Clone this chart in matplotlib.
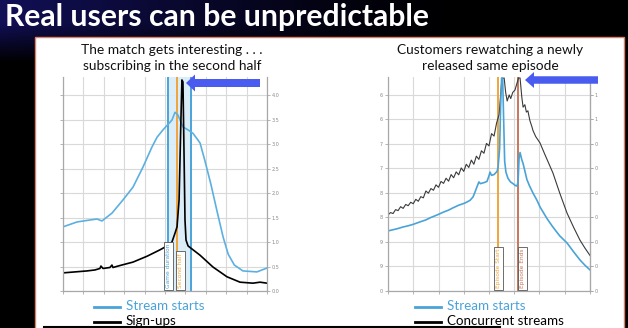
import numpy as np
import matplotlib
matplotlib.use("Agg")
import matplotlib.pyplot as plt
from matplotlib.patches import Rectangle, FancyArrow
from matplotlib.lines import Line2D

W, H = 628, 328

# ---- Left chart: live match ----
match_x = [0, 0.69, 1.32, 1.67, 1.91, 2.40, 2.94, 3.43, 3.92, 4.36, 4.61, 4.90,
           5.34, 5.49, 5.64, 5.88, 6.13, 6.37, 6.62, 6.72, 6.95, 7.25, 7.55,
           7.85, 8.10, 8.40, 8.82, 9.51, 10.0]
match_streams = [1.31, 1.41, 1.45, 1.47, 1.43, 1.59, 1.86, 2.12, 2.53, 2.94, 3.14,
                 3.29, 3.49, 3.65, 3.59, 3.35, 3.29, 3.22, 3.08, 3.02, 2.67,
                 2.18, 1.63, 1.10, 0.75, 0.53, 0.41, 0.39, 0.47]

signup_x = [0, 0.59, 1.18, 1.57, 1.81, 1.86, 1.96, 2.30, 2.40, 2.45, 2.79, 3.43,
            4.12, 4.75, 5.10, 5.34, 5.49, 5.59, 5.69, 5.78, 5.83, 5.88, 5.93,
            5.98, 6.03, 6.13, 6.72, 7.35, 8.04, 8.68, 9.31, 9.66, 10.0]
signups = [0.37, 0.39, 0.41, 0.43, 0.46, 0.51, 0.46, 0.48, 0.53, 0.48, 0.52, 0.59,
           0.71, 0.84, 0.92, 1.00, 1.18, 1.31, 1.86, 3.49, 4.31, 4.27, 2.88,
           1.45, 1.04, 0.92, 0.73, 0.49, 0.29, 0.18, 0.16, 0.18, 0.16]

game_start, game_end, second_half = 5.15, 6.27, 5.59
left_ticklabels = ["0.0", "0.5", "1.0", "1.5", "2.0", "2.5", "3.0", "3.5", "4.0"]

# ---- Right chart: episode release ----
ep_x = [0.0, 0.2, 0.4, 0.59, 0.8, 1.0, 1.27, 1.5, 1.7, 1.94, 2.2, 2.4, 2.57, 2.8,
        3.0, 3.13, 3.25, 3.37, 3.45, 3.52, 3.6, 3.66, 3.8, 3.92, 4.0, 4.04, 4.1,
        4.2, 4.32, 4.36, 4.42, 4.46, 4.50, 4.54, 4.58, 4.62, 4.67, 4.75, 4.85,
        4.95, 5.05, 5.11, 5.15, 5.19, 5.23, 5.30, 5.35, 5.42, 5.50, 5.6, 5.74,
        5.9, 6.02, 6.3, 6.53, 6.8, 7.09, 7.35, 7.60, 7.8, 8.0]
ep_streams = [2.45, 2.50, 2.55, 2.61, 2.66, 2.72, 2.82, 2.90, 3.00, 3.10, 3.22,
              3.30, 3.39, 3.50, 3.57, 3.63, 3.70, 3.84, 4.05, 4.24, 4.45, 4.38,
              4.42, 4.47, 4.70, 4.85, 4.72, 4.75, 4.88, 5.06, 5.80, 7.50, 8.69,
              8.69, 7.00, 5.30, 4.85, 4.60, 4.45, 4.38, 4.30, 4.28, 4.45, 5.40,
              5.65, 5.35, 5.20, 4.90, 4.55, 4.30, 4.00, 3.70, 3.43, 2.95, 2.61,
              2.25, 1.96, 1.60, 1.27, 1.05, 0.86]

conc_x = [0.0, 0.1, 0.2, 0.3, 0.4, 0.5, 0.6, 0.7, 0.8, 0.9, 1.0, 1.1, 1.2, 1.3,
          1.4, 1.5, 1.6, 1.7, 1.8, 1.9, 2.0, 2.1, 2.2, 2.3, 2.4, 2.5, 2.6, 2.7,
          2.8, 2.9, 3.0, 3.1, 3.2, 3.3, 3.4, 3.5, 3.6, 3.7, 3.8, 3.9, 4.0, 4.1,
          4.2, 4.3, 4.40, 4.46, 4.51, 4.60, 4.66, 4.72, 4.80, 4.86, 4.94, 5.03,
          5.10, 5.17, 5.23, 5.30, 5.35, 5.42, 5.48, 5.54, 5.62, 5.70, 5.74,
          5.85, 6.02, 6.2, 6.53, 6.8, 7.09, 7.35, 7.60, 7.8, 8.0]
concurrent = [3.10, 3.20, 3.16, 3.32, 3.28, 3.44, 3.37, 3.53, 3.48, 3.62, 3.56,
              3.74, 3.66, 3.85, 3.80, 4.08, 3.99, 4.18, 4.11, 4.33, 4.23, 4.47,
              4.39, 4.60, 4.48, 4.75, 4.62, 4.86, 4.74, 5.02, 4.88, 5.17, 5.04,
              5.34, 5.17, 5.50, 5.37, 5.72, 5.62, 6.02, 5.92, 6.42, 6.32, 6.85,
              7.20, 8.00, 8.65, 8.69, 8.10, 7.75, 8.00, 7.85, 8.10, 8.20, 8.45,
              8.69, 8.69, 7.90, 7.50, 7.60, 7.30, 7.35, 6.95, 6.70, 6.55, 6.30,
              6.04, 5.60, 4.82, 4.00, 3.18, 2.60, 2.08, 1.75, 1.45]

episode_start, episode_end = 4.36, 5.15
right_left_labels = ["0", "9", "9", "8", "8", "7", "7", "6", "6"]
right_right_labels = ["0", "0", "0", "0", "0", "0", "0", "1", "1"]

BLUE = "#4aa3d8"
LIGHT_BLUE = "#5cb0e0"
ORANGE = "#f0a53a"
BROWN = "#c8775a"
GRID = "#d9d9d9"
SPINE = "#a8a8a8"
ARROW = "#4a5cf0"
FONT = "Lato"

fig = plt.figure(figsize=(W / 100, H / 100), dpi=100)


def rect(x0, y0, x1, y1):
    return [x0 / W, 1 - y1 / H, (x1 - x0) / W, (y1 - y0) / H]


# background: dark navy fading to black, white slide panel
bg = fig.add_axes([0, 0, 1, 1], zorder=-5)
bg.set_xlim(0, W)
bg.set_ylim(H, 0)
bg.axis("off")
xx, yy = np.meshgrid(np.arange(W), np.arange(H))
wx = np.clip(1 - xx / 470.0, 0, 1) ** 1.3
wy = np.clip(1 - (yy - 22) / 40.0, 0, 1)
wgt = (wx * wy)[..., None]
navy = np.array([0.07, 0.06, 0.34])
bg.imshow(wgt * navy, extent=(0, W, H, 0), aspect="auto", interpolation="bilinear")
bg.add_patch(Rectangle((35, 37), 589, 300, facecolor="white",
                       edgecolor="#d9826a", lw=1.0))


def style_axes(ax, nx):
    ax.set_facecolor("white")
    ax.grid(True, color=GRID, lw=0.8)
    ax.set_axisbelow(True)
    ax.spines["top"].set_visible(False)
    for s in ("left", "right", "bottom"):
        ax.spines[s].set_color(SPINE)
        ax.spines[s].set_linewidth(0.9)
    ax.set_xticks(range(nx + 1))
    ax.set_xticklabels([])
    ax.tick_params(axis="both", length=2, width=0.6, color=SPINE,
                   labelsize=3.5, labelcolor="#8a8a8a", pad=1.5)


# ---- left chart ----
axL = fig.add_axes(rect(63, 77, 267, 291))
style_axes(axL, 10)
axL.set_xlim(0, 10)
axL.set_ylim(0, 4.37)
axL.set_yticks(np.arange(0, 4.01, 0.5))
axL.set_yticklabels(left_ticklabels)
axL.tick_params(axis="y", left=True, right=True, labelleft=False, labelright=True)
axL.axvspan(game_start, game_end, color="#d8ecf8", alpha=0.9, lw=0)
axL.axvline(game_start, color=BLUE, lw=1.4)
axL.axvline(game_end, color=BLUE, lw=1.4)
axL.axvline(second_half, color=ORANGE, lw=1.4)
axL.plot(match_x, match_streams, color=LIGHT_BLUE, lw=1.2)
axL.plot(signup_x, signups, color="black", lw=1.2)
box = dict(boxstyle="square,pad=0.35", fc="white", ec="#555555", lw=0.6)
axL.text(game_start, 0.06, "Game duration", rotation=90, fontsize=4.2,
         color=BLUE, ha="center", va="bottom", bbox=box)
axL.text(second_half + 0.05, 0.06, "Second half", rotation=90, fontsize=4.2,
         color=ORANGE, ha="left", va="bottom", bbox=box)

# ---- right chart ----
axR = fig.add_axes(rect(388, 77, 590, 291))
style_axes(axR, 8)
axR.set_xlim(0, 8)
axR.set_ylim(0, 8.73)
axR.set_yticks(range(9))
axR.set_yticklabels(right_left_labels)
axR.tick_params(axis="y", left=True, right=True)
sec = axR.secondary_yaxis("right")
sec.set_yticks(range(9), labels=right_right_labels)
sec.tick_params(length=2, width=0.6, color=SPINE, labelsize=3.5,
                labelcolor="#8a8a8a", pad=1.5)
sec.spines["right"].set_color(SPINE)
axR.axvline(episode_start, color=ORANGE, lw=1.4)
axR.axvline(episode_end, color=BROWN, lw=1.4)
axR.plot(conc_x, concurrent, color="#3a3a3a", lw=0.8)
axR.plot(ep_x, ep_streams, color=BLUE, lw=1.2)
axR.text(episode_start, 0.12, "Episode Start", rotation=90, fontsize=4.2,
         color=ORANGE, ha="center", va="bottom", bbox=box)
axR.text(episode_end + 0.08, 0.12, "Episode Ends", rotation=90, fontsize=4.2,
         color=BROWN, ha="left", va="bottom", bbox=box)

# ---- overlay: title, captions, arrows, legends ----
ov = fig.add_axes([0, 0, 1, 1], zorder=10)
ov.set_xlim(0, W)
ov.set_ylim(H, 0)
ov.axis("off")
ov.patch.set_alpha(0)

ov.text(5, 17, "Real users can be unpredictable", color="white",
        fontsize=21.7, fontweight="bold", family=FONT, ha="left", va="center")

cap = dict(fontsize=9.9, family=FONT, color="#111111", ha="center", va="center")
ov.text(172, 50, "The match gets interesting . . .", **cap)
ov.text(172, 66, "subscribing in the second half", **cap)
ov.text(490, 50, "Customers rewatching a newly", **cap)
ov.text(490, 66, "released same episode", **cap)

ov.add_patch(FancyArrow(260, 83, -74, 0, width=8, head_width=17, head_length=9,
                        length_includes_head=True, color=ARROW, lw=0))
ov.add_patch(FancyArrow(598, 80, -73, 0, width=7.5, head_width=16, head_length=9,
                        length_includes_head=True, color=ARROW, lw=0))

leg = dict(fontsize=9.6, family=FONT, ha="left", va="center")
for x0, lab2 in ((94, "Sign-ups"), (415, "Concurrent streams")):
    ov.add_line(Line2D([x0, x0 + 26], [307, 307], color=BLUE, lw=2))
    ov.add_line(Line2D([x0, x0 + 26], [322, 322], color="black", lw=2))
    ov.text(x0 + 32, 306, "Stream starts", color=BLUE, **leg)
    ov.text(x0 + 32, 321, lab2, color="black", **leg)

ov.add_line(Line2D([44, 500], [326.5, 326.5], color="black", lw=1.5))

fig.savefig("out.png", dpi=100)
